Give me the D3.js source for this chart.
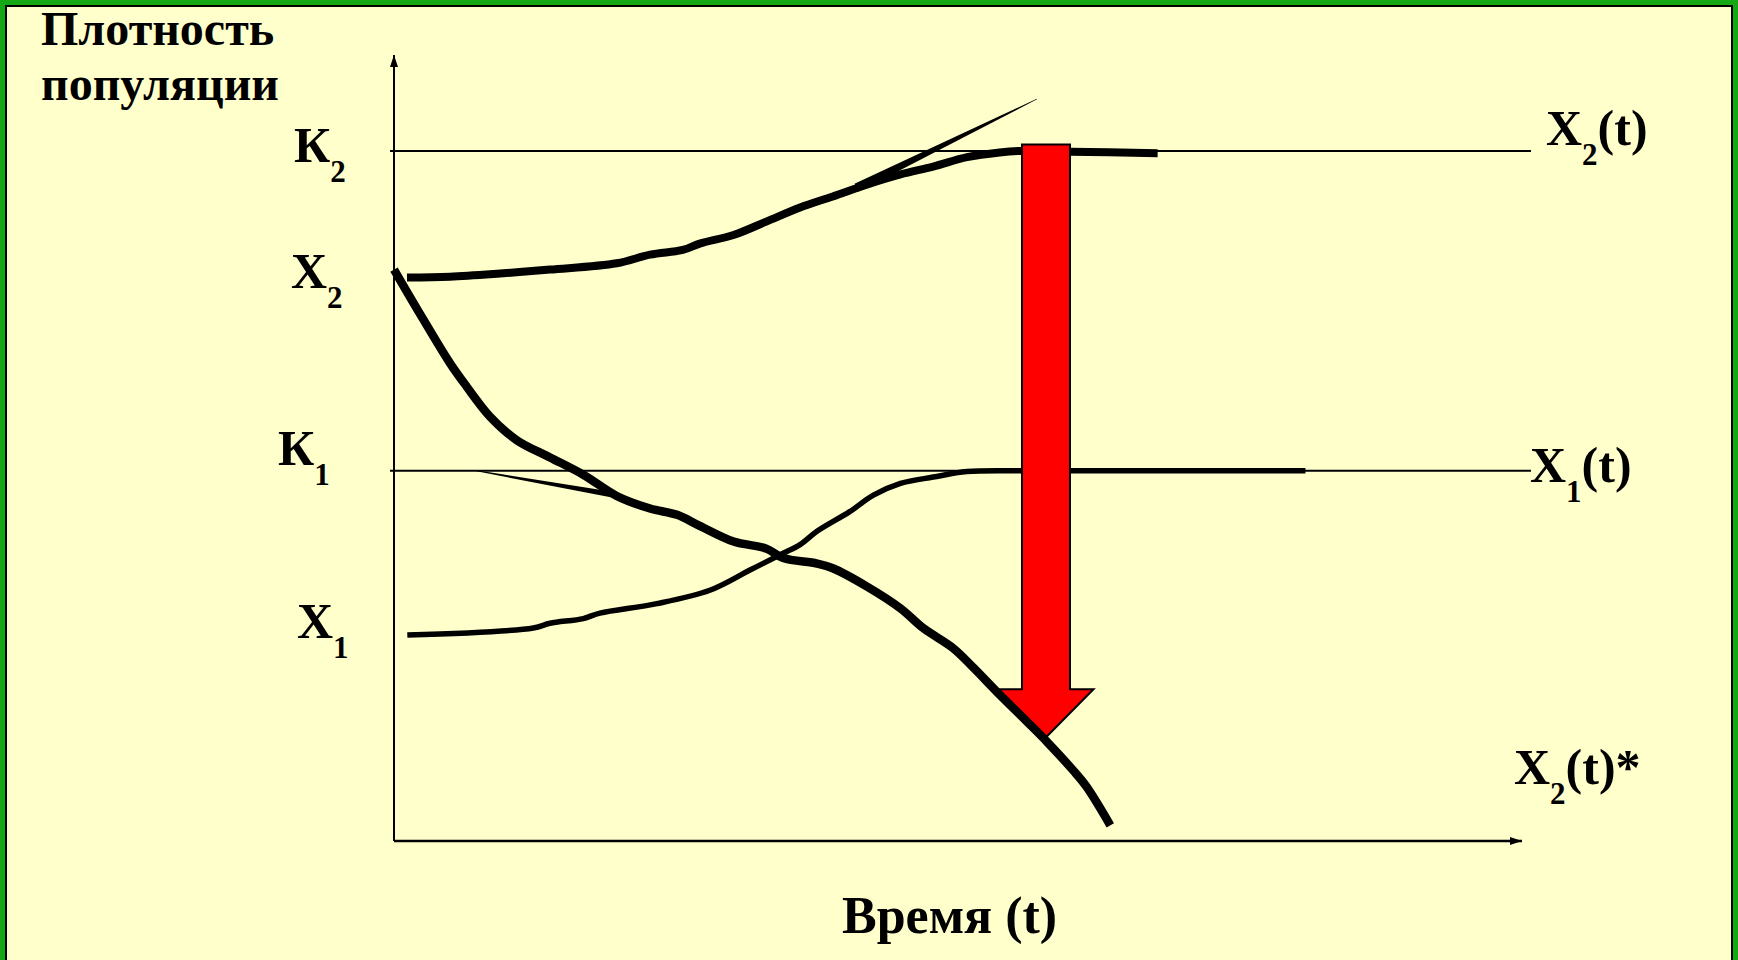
<!DOCTYPE html>
<html>
<head>
<meta charset="utf-8">
<script src="https://cdn.jsdelivr.net/npm/d3@7"></script>
<style>
  html, body { margin: 0; padding: 0; background: #ffffcc; overflow: hidden; }
</style>
</head>
<body>
<script>
const [W, H] = [1738, 960];
const serif = "'Liberation Serif', 'Times New Roman', Times, 'DejaVu Serif', serif";

// carrying capacities (density units, 0..100)
const K1 = 47.1, K2 = 87.8;

// X2(t): the upper thick curve, grows to K2
const x2Time = [1.15, 4.96, 9.4, 13.83, 19.74, 22.7, 25.6, 27.1, 30.1, 33.0, 36.0, 38.9, 41.9, 44.9, 47.8, 50.8, 53.7, 55.6, 59.9, 67.7];
const x2Vals = [71.7, 71.8, 72.2, 72.7, 73.5, 74.6, 75.2, 76.0, 77.1, 78.8, 80.6, 82.0, 83.5, 84.8, 85.8, 87.0, 87.6, 87.8, 87.7, 87.5];

// X1(t): the thinner curve, grows to K1
const x1Time = [1.18, 12.35, 13.83, 16.78, 18.26, 23.3, 28.0, 31.6, 34.5, 36.0, 37.5, 40.4, 42.5, 44.9, 47.8, 50.8, 55.5, 59.9, 80.8];
const x1Vals = [26.2, 27.1, 27.7, 28.3, 29.0, 30.2, 31.9, 34.5, 36.6, 37.7, 39.4, 41.9, 44.0, 45.5, 46.3, 47.0, 47.1, 47.1, 47.1];

// X2(t)*: the thick curve falling from X2 towards zero
const x2sTime = [0, 2.0, 4.96, 6.45, 8.51, 10.88, 13.83, 16.78, 19.74, 22.7, 25.1, 27.1, 30.1, 33.0, 34.5, 37.5, 38.9, 41.9, 44.9, 46.9, 49.6, 51.4, 53.7, 56.1, 57.9, 60.2, 61.4, 63.5];
const x2sVals = [72.7, 67.8, 60.8, 57.8, 54.0, 51.0, 48.8, 46.6, 43.9, 42.3, 41.5, 40.1, 38.1, 37.2, 36.0, 35.3, 34.7, 32.4, 29.6, 27.1, 24.5, 22.0, 18.6, 15.2, 12.6, 9.0, 6.9, 2.0];

// tangent strokes
const tanUpTime = [41.0, 57.0], tanUpVals = [83.1, 94.4];
const tanLowTime = [7.33, 19.6], tanLowVals = [47.1, 44.0];

// big red arrow: time position, from / to density
const arrowT = 57.8, arrowFrom = 88.6, arrowTo = 13.2;

const svg = d3.select("body").append("svg")
  .attr("width", W)
  .attr("height", H)
  .attr("font-family", serif)
  .attr("font-weight", "bold");

// slide frame
svg.append("rect").attr("width", W).attr("height", H).attr("fill", "#14a814");
svg.append("rect")
  .attr("x", 6).attr("y", 6)
  .attr("width", W - 12).attr("height", H + 40)
  .attr("fill", "#ffffcc")
  .attr("stroke", "#000").attr("stroke-width", 2);

const x = d3.scaleLinear().domain([0, 100]).range([394, 1522]);
const y = d3.scaleLinear().domain([0, 100]).range([841, 55]);

// axes
const defs = svg.append("defs");
defs.append("marker")
  .attr("id", "arr")
  .attr("viewBox", "0 0 12 8")
  .attr("refX", 12).attr("refY", 4)
  .attr("markerWidth", 12).attr("markerHeight", 8)
  .attr("markerUnits", "userSpaceOnUse")
  .attr("orient", "auto")
  .append("path").attr("d", "M0,0L12,4L0,8Z").attr("fill", "#000");

svg.append("line")
  .attr("x1", x(0)).attr("y1", y(0))
  .attr("x2", x(0)).attr("y2", y(100))
  .attr("stroke", "#000").attr("stroke-width", 2)
  .attr("marker-end", "url(#arr)");
svg.append("line")
  .attr("x1", x(0)).attr("y1", y(0))
  .attr("x2", x(100)).attr("y2", y(0))
  .attr("stroke", "#000").attr("stroke-width", 2.5)
  .attr("marker-end", "url(#arr)");

// K1, K2 levels
svg.selectAll(".klev")
  .data([K1, K2])
  .enter()
  .append("line")
    .attr("x1", x(0) - 4).attr("x2", 1531)
    .attr("y1", d => y(d)).attr("y2", d => y(d))
    .attr("stroke", "#000").attr("stroke-width", 2);

const line = d3.line()
  .x(d => x(d[0]))
  .y(d => y(d[1]))
  .curve(d3.curveCatmullRom.alpha(0.5));

// tapered stroke between two points
function wedge(ts, vs, w0, w1) {
  const [xa, ya, xb, yb] = [x(ts[0]), y(vs[0]), x(ts[1]), y(vs[1])];
  const len = Math.hypot(xb - xa, yb - ya);
  const [nx, ny] = [-(yb - ya) / len, (xb - xa) / len];
  const pts = [
    [xa + nx * w0 / 2, ya + ny * w0 / 2],
    [xb + nx * w1 / 2, yb + ny * w1 / 2],
    [xb - nx * w1 / 2, yb - ny * w1 / 2],
    [xa - nx * w0 / 2, ya - ny * w0 / 2]
  ];
  svg.append("path").attr("d", d3.line()(pts) + "Z").attr("fill", "#000");
}

wedge(tanUpTime, tanUpVals, 9, 0.5);
wedge(tanLowTime, tanLowVals, 1, 6);

svg.append("path")
  .attr("d", line(d3.zip(x2Time, x2Vals)))
  .attr("fill", "none").attr("stroke", "#000").attr("stroke-width", 8);
svg.append("path")
  .attr("d", line(d3.zip(x1Time, x1Vals)))
  .attr("fill", "none").attr("stroke", "#000").attr("stroke-width", 5.5);

// red arrow
const [shaftW, headW, headL] = [48, 95, 48];
const ax = x(arrowT), ay0 = y(arrowFrom), ay1 = y(arrowTo);
const arrowPts = [
  [ax - shaftW / 2, ay0], [ax + shaftW / 2, ay0],
  [ax + shaftW / 2, ay1 - headL], [ax + headW / 2, ay1 - headL],
  [ax, ay1],
  [ax - headW / 2, ay1 - headL], [ax - shaftW / 2, ay1 - headL]
];
svg.append("path")
  .attr("d", d3.line()(arrowPts) + "Z")
  .attr("fill", "#ff0000").attr("stroke", "#000").attr("stroke-width", 2);

svg.append("path")
  .attr("d", line(d3.zip(x2sTime, x2sVals)))
  .attr("fill", "none").attr("stroke", "#000").attr("stroke-width", 8.5);

// labels with subscripts
function label(px, py, main, sub, rest) {
  const t = svg.append("text")
    .attr("x", px).attr("y", py)
    .attr("font-family", serif).attr("font-weight", "bold")
    .attr("font-size", 50);
  t.append("tspan").text(main);
  t.append("tspan").attr("dy", 20).attr("font-size", 31).text(sub);
  if (rest) t.append("tspan").attr("dy", -20).text(rest);
}

label(294, y(K2) + 11, "К", "2");
label(291, y(x2Vals[0]) + 11, "X", "2");
label(278, y(K1) - 6, "К", "1");
label(297, y(x1Vals[0]) + 3, "X", "1");

label(1546, y(K2) - 6, "X", "2", "(t)");
label(1530, y(K1) + 11, "X", "1", "(t)");
label(1514, y(0) - 57, "X", "2", "(t)*");

// axis titles
svg.selectAll(".ytitle")
  .data(["Плотность", "популяции"])
  .enter()
  .append("text")
    .attr("x", 41)
    .attr("y", (d, i) => 45 + i * 55)
    .attr("font-family", serif).attr("font-weight", "bold")
    .attr("font-size", 48)
    .text(d => d);
svg.append("text")
  .attr("x", 842).attr("y", 933)
  .attr("font-family", serif).attr("font-weight", "bold")
  .attr("font-size", 52)
  .text("Время (t)");
</script>
</body>
</html>
